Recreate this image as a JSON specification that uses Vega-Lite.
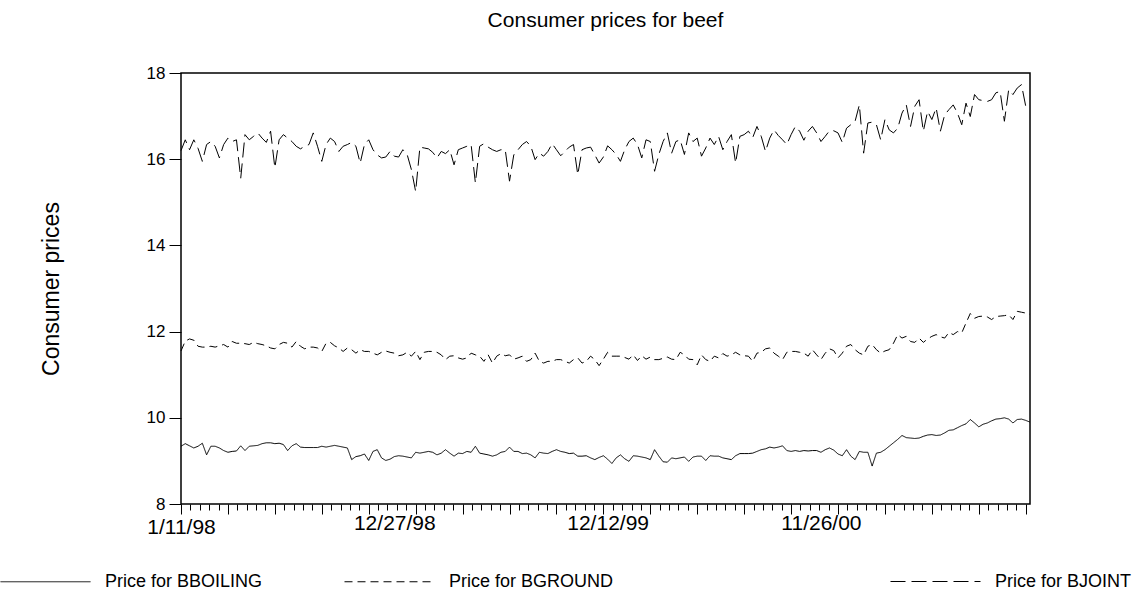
{
  "$schema": "https://vega.github.io/schema/vega-lite/v6.json",
  "width": 849,
  "height": 431,
  "autosize": "none",
  "padding": {"left": 181, "top": 73, "right": 106, "bottom": 95},
  "background": "white",
  "title": {"text": "Consumer prices for beef", "fontSize": 21, "fontWeight": "normal", "font": "Liberation Sans", "color": "#000", "anchor": "middle", "offset": 33},
  "config": {
    "font": "Liberation Sans",
    "view": {"stroke": "#000", "strokeWidth": 1.5},
    "axis": {"labelFont": "Liberation Sans", "titleFont": "Liberation Sans", "labelColor": "#000", "titleColor": "#000", "tickColor": "#000", "domain": false, "grid": false},
    "legend": {"title": null, "orient": "none", "direction": "horizontal", "symbolType": "stroke", "symbolSize": 8100, "symbolStrokeColor": "#000", "symbolStrokeWidth": 1, "labelFontSize": 18, "labelLimit": 0, "labelColor": "#000", "labelFont": "Liberation Sans", "labelOffset": 14, "padding": 0}
  },
  "data": {"values": [
{"t":0,"BBOILING":9.34,"BGROUND":11.55,"BJOINT":16.20},
{"t":1,"BBOILING":9.40,"BGROUND":11.78,"BJOINT":16.45},
{"t":2,"BBOILING":9.35,"BGROUND":11.83,"BJOINT":16.22},
{"t":3,"BBOILING":9.30,"BGROUND":11.80,"BJOINT":16.45},
{"t":4,"BBOILING":9.34,"BGROUND":11.66,"BJOINT":16.25},
{"t":5,"BBOILING":9.41,"BGROUND":11.64,"BJOINT":15.95},
{"t":6,"BBOILING":9.14,"BGROUND":11.64,"BJOINT":16.34},
{"t":7,"BBOILING":9.34,"BGROUND":11.66,"BJOINT":16.41},
{"t":8,"BBOILING":9.34,"BGROUND":11.64,"BJOINT":16.30},
{"t":9,"BBOILING":9.30,"BGROUND":11.67,"BJOINT":16.03},
{"t":10,"BBOILING":9.24,"BGROUND":11.70,"BJOINT":16.34},
{"t":11,"BBOILING":9.20,"BGROUND":11.64,"BJOINT":16.49},
{"t":12,"BBOILING":9.22,"BGROUND":11.77,"BJOINT":16.41},
{"t":13,"BBOILING":9.23,"BGROUND":11.73,"BJOINT":16.45},
{"t":14,"BBOILING":9.35,"BGROUND":11.73,"BJOINT":15.56},
{"t":15,"BBOILING":9.24,"BGROUND":11.72,"BJOINT":16.57},
{"t":16,"BBOILING":9.34,"BGROUND":11.70,"BJOINT":16.45},
{"t":17,"BBOILING":9.35,"BGROUND":11.75,"BJOINT":16.53},
{"t":18,"BBOILING":9.36,"BGROUND":11.72,"BJOINT":16.61},
{"t":19,"BBOILING":9.40,"BGROUND":11.70,"BJOINT":16.49},
{"t":20,"BBOILING":9.42,"BGROUND":11.67,"BJOINT":16.39},
{"t":21,"BBOILING":9.42,"BGROUND":11.62,"BJOINT":16.65},
{"t":22,"BBOILING":9.40,"BGROUND":11.60,"BJOINT":15.80},
{"t":23,"BBOILING":9.41,"BGROUND":11.70,"BJOINT":16.45},
{"t":24,"BBOILING":9.38,"BGROUND":11.75,"BJOINT":16.57},
{"t":25,"BBOILING":9.24,"BGROUND":11.73,"BJOINT":16.49},
{"t":26,"BBOILING":9.35,"BGROUND":11.64,"BJOINT":16.41},
{"t":27,"BBOILING":9.40,"BGROUND":11.77,"BJOINT":16.30},
{"t":28,"BBOILING":9.32,"BGROUND":11.66,"BJOINT":16.24},
{"t":29,"BBOILING":9.31,"BGROUND":11.60,"BJOINT":16.30},
{"t":30,"BBOILING":9.31,"BGROUND":11.64,"BJOINT":16.34},
{"t":31,"BBOILING":9.31,"BGROUND":11.64,"BJOINT":16.61},
{"t":32,"BBOILING":9.31,"BGROUND":11.62,"BJOINT":16.30},
{"t":33,"BBOILING":9.34,"BGROUND":11.54,"BJOINT":15.95},
{"t":34,"BBOILING":9.32,"BGROUND":11.73,"BJOINT":16.34},
{"t":35,"BBOILING":9.34,"BGROUND":11.75,"BJOINT":16.49},
{"t":36,"BBOILING":9.36,"BGROUND":11.67,"BJOINT":16.41},
{"t":37,"BBOILING":9.34,"BGROUND":11.62,"BJOINT":16.18},
{"t":38,"BBOILING":9.32,"BGROUND":11.54,"BJOINT":16.30},
{"t":39,"BBOILING":9.30,"BGROUND":11.62,"BJOINT":16.34},
{"t":40,"BBOILING":9.03,"BGROUND":11.58,"BJOINT":16.39},
{"t":41,"BBOILING":9.10,"BGROUND":11.50,"BJOINT":16.30},
{"t":42,"BBOILING":9.12,"BGROUND":11.58,"BJOINT":15.91},
{"t":43,"BBOILING":9.16,"BGROUND":11.54,"BJOINT":16.34},
{"t":44,"BBOILING":9.01,"BGROUND":11.54,"BJOINT":16.45},
{"t":45,"BBOILING":9.22,"BGROUND":11.50,"BJOINT":16.22},
{"t":46,"BBOILING":9.26,"BGROUND":11.46,"BJOINT":16.10},
{"t":47,"BBOILING":9.07,"BGROUND":11.52,"BJOINT":16.03},
{"t":48,"BBOILING":9.01,"BGROUND":11.55,"BJOINT":16.05},
{"t":49,"BBOILING":9.04,"BGROUND":11.52,"BJOINT":16.18},
{"t":50,"BBOILING":9.10,"BGROUND":11.50,"BJOINT":16.07},
{"t":51,"BBOILING":9.12,"BGROUND":11.44,"BJOINT":16.05},
{"t":52,"BBOILING":9.11,"BGROUND":11.46,"BJOINT":16.22},
{"t":53,"BBOILING":9.09,"BGROUND":11.52,"BJOINT":16.11},
{"t":54,"BBOILING":9.07,"BGROUND":11.43,"BJOINT":15.76},
{"t":55,"BBOILING":9.20,"BGROUND":11.54,"BJOINT":15.25},
{"t":56,"BBOILING":9.18,"BGROUND":11.35,"BJOINT":16.28},
{"t":57,"BBOILING":9.20,"BGROUND":11.52,"BJOINT":16.26},
{"t":58,"BBOILING":9.22,"BGROUND":11.54,"BJOINT":16.24},
{"t":59,"BBOILING":9.20,"BGROUND":11.54,"BJOINT":16.16},
{"t":60,"BBOILING":9.14,"BGROUND":11.52,"BJOINT":16.03},
{"t":61,"BBOILING":9.18,"BGROUND":11.46,"BJOINT":16.18},
{"t":62,"BBOILING":9.26,"BGROUND":11.35,"BJOINT":16.13},
{"t":63,"BBOILING":9.18,"BGROUND":11.43,"BJOINT":16.22},
{"t":64,"BBOILING":9.11,"BGROUND":11.44,"BJOINT":15.87},
{"t":65,"BBOILING":9.18,"BGROUND":11.39,"BJOINT":16.22},
{"t":66,"BBOILING":9.17,"BGROUND":11.36,"BJOINT":16.26},
{"t":67,"BBOILING":9.22,"BGROUND":11.39,"BJOINT":16.30},
{"t":68,"BBOILING":9.20,"BGROUND":11.50,"BJOINT":16.34},
{"t":69,"BBOILING":9.34,"BGROUND":11.46,"BJOINT":15.45},
{"t":70,"BBOILING":9.18,"BGROUND":11.43,"BJOINT":16.30},
{"t":71,"BBOILING":9.16,"BGROUND":11.31,"BJOINT":16.36},
{"t":72,"BBOILING":9.14,"BGROUND":11.46,"BJOINT":16.28},
{"t":73,"BBOILING":9.11,"BGROUND":11.27,"BJOINT":16.22},
{"t":74,"BBOILING":9.14,"BGROUND":11.43,"BJOINT":16.18},
{"t":75,"BBOILING":9.20,"BGROUND":11.49,"BJOINT":16.22},
{"t":76,"BBOILING":9.22,"BGROUND":11.44,"BJOINT":16.22},
{"t":77,"BBOILING":9.32,"BGROUND":11.46,"BJOINT":15.49},
{"t":78,"BBOILING":9.22,"BGROUND":11.36,"BJOINT":16.10},
{"t":79,"BBOILING":9.22,"BGROUND":11.39,"BJOINT":16.22},
{"t":80,"BBOILING":9.17,"BGROUND":11.43,"BJOINT":16.34},
{"t":81,"BBOILING":9.18,"BGROUND":11.31,"BJOINT":16.41},
{"t":82,"BBOILING":9.14,"BGROUND":11.35,"BJOINT":16.30},
{"t":83,"BBOILING":9.07,"BGROUND":11.50,"BJOINT":15.99},
{"t":84,"BBOILING":9.20,"BGROUND":11.31,"BJOINT":16.14},
{"t":85,"BBOILING":9.18,"BGROUND":11.27,"BJOINT":16.07},
{"t":86,"BBOILING":9.17,"BGROUND":11.31,"BJOINT":16.18},
{"t":87,"BBOILING":9.22,"BGROUND":11.31,"BJOINT":16.36},
{"t":88,"BBOILING":9.26,"BGROUND":11.35,"BJOINT":16.22},
{"t":89,"BBOILING":9.22,"BGROUND":11.35,"BJOINT":16.08},
{"t":90,"BBOILING":9.20,"BGROUND":11.31,"BJOINT":16.18},
{"t":91,"BBOILING":9.17,"BGROUND":11.27,"BJOINT":16.28},
{"t":92,"BBOILING":9.18,"BGROUND":11.35,"BJOINT":16.34},
{"t":93,"BBOILING":9.11,"BGROUND":11.39,"BJOINT":15.64},
{"t":94,"BBOILING":9.11,"BGROUND":11.27,"BJOINT":16.22},
{"t":95,"BBOILING":9.12,"BGROUND":11.31,"BJOINT":16.26},
{"t":96,"BBOILING":9.07,"BGROUND":11.43,"BJOINT":16.28},
{"t":97,"BBOILING":9.03,"BGROUND":11.35,"BJOINT":16.10},
{"t":98,"BBOILING":9.08,"BGROUND":11.21,"BJOINT":15.91},
{"t":99,"BBOILING":9.12,"BGROUND":11.36,"BJOINT":16.05},
{"t":100,"BBOILING":9.04,"BGROUND":11.52,"BJOINT":16.31},
{"t":101,"BBOILING":8.94,"BGROUND":11.43,"BJOINT":16.22},
{"t":102,"BBOILING":9.07,"BGROUND":11.43,"BJOINT":16.11},
{"t":103,"BBOILING":9.14,"BGROUND":11.43,"BJOINT":15.95},
{"t":104,"BBOILING":9.05,"BGROUND":11.40,"BJOINT":16.22},
{"t":105,"BBOILING":8.99,"BGROUND":11.36,"BJOINT":16.41},
{"t":106,"BBOILING":9.12,"BGROUND":11.46,"BJOINT":16.49},
{"t":107,"BBOILING":9.11,"BGROUND":11.33,"BJOINT":16.34},
{"t":108,"BBOILING":9.09,"BGROUND":11.44,"BJOINT":16.03},
{"t":109,"BBOILING":9.07,"BGROUND":11.36,"BJOINT":16.45},
{"t":110,"BBOILING":9.03,"BGROUND":11.41,"BJOINT":16.41},
{"t":111,"BBOILING":9.26,"BGROUND":11.35,"BJOINT":15.72},
{"t":112,"BBOILING":9.11,"BGROUND":11.35,"BJOINT":16.11},
{"t":113,"BBOILING":8.98,"BGROUND":11.38,"BJOINT":16.41},
{"t":114,"BBOILING":8.97,"BGROUND":11.41,"BJOINT":16.61},
{"t":115,"BBOILING":9.07,"BGROUND":11.36,"BJOINT":16.14},
{"t":116,"BBOILING":9.05,"BGROUND":11.35,"BJOINT":16.41},
{"t":117,"BBOILING":9.07,"BGROUND":11.52,"BJOINT":16.45},
{"t":118,"BBOILING":9.09,"BGROUND":11.46,"BJOINT":16.11},
{"t":119,"BBOILING":8.99,"BGROUND":11.36,"BJOINT":16.61},
{"t":120,"BBOILING":9.09,"BGROUND":11.35,"BJOINT":16.41},
{"t":121,"BBOILING":9.11,"BGROUND":11.23,"BJOINT":16.49},
{"t":122,"BBOILING":9.11,"BGROUND":11.46,"BJOINT":16.07},
{"t":123,"BBOILING":9.01,"BGROUND":11.35,"BJOINT":16.26},
{"t":124,"BBOILING":9.12,"BGROUND":11.31,"BJOINT":16.49},
{"t":125,"BBOILING":9.11,"BGROUND":11.43,"BJOINT":16.34},
{"t":126,"BBOILING":9.11,"BGROUND":11.39,"BJOINT":16.53},
{"t":127,"BBOILING":9.07,"BGROUND":11.49,"BJOINT":16.22},
{"t":128,"BBOILING":9.05,"BGROUND":11.43,"BJOINT":16.41},
{"t":129,"BBOILING":9.03,"BGROUND":11.46,"BJOINT":16.57},
{"t":130,"BBOILING":9.12,"BGROUND":11.52,"BJOINT":15.91},
{"t":131,"BBOILING":9.17,"BGROUND":11.46,"BJOINT":16.53},
{"t":132,"BBOILING":9.17,"BGROUND":11.44,"BJOINT":16.57},
{"t":133,"BBOILING":9.17,"BGROUND":11.43,"BJOINT":16.65},
{"t":134,"BBOILING":9.18,"BGROUND":11.31,"BJOINT":16.50},
{"t":135,"BBOILING":9.22,"BGROUND":11.50,"BJOINT":16.76},
{"t":136,"BBOILING":9.26,"BGROUND":11.52,"BJOINT":16.53},
{"t":137,"BBOILING":9.28,"BGROUND":11.60,"BJOINT":16.18},
{"t":138,"BBOILING":9.32,"BGROUND":11.62,"BJOINT":16.49},
{"t":139,"BBOILING":9.30,"BGROUND":11.50,"BJOINT":16.68},
{"t":140,"BBOILING":9.32,"BGROUND":11.43,"BJOINT":16.55},
{"t":141,"BBOILING":9.35,"BGROUND":11.35,"BJOINT":16.45},
{"t":142,"BBOILING":9.24,"BGROUND":11.52,"BJOINT":16.34},
{"t":143,"BBOILING":9.22,"BGROUND":11.54,"BJOINT":16.57},
{"t":144,"BBOILING":9.24,"BGROUND":11.54,"BJOINT":16.76},
{"t":145,"BBOILING":9.22,"BGROUND":11.52,"BJOINT":16.65},
{"t":146,"BBOILING":9.24,"BGROUND":11.50,"BJOINT":16.44},
{"t":147,"BBOILING":9.23,"BGROUND":11.43,"BJOINT":16.65},
{"t":148,"BBOILING":9.24,"BGROUND":11.58,"BJOINT":16.76},
{"t":149,"BBOILING":9.24,"BGROUND":11.46,"BJOINT":16.61},
{"t":150,"BBOILING":9.20,"BGROUND":11.35,"BJOINT":16.41},
{"t":151,"BBOILING":9.26,"BGROUND":11.50,"BJOINT":16.53},
{"t":152,"BBOILING":9.30,"BGROUND":11.60,"BJOINT":16.66},
{"t":153,"BBOILING":9.25,"BGROUND":11.56,"BJOINT":16.66},
{"t":154,"BBOILING":9.16,"BGROUND":11.39,"BJOINT":16.61},
{"t":155,"BBOILING":9.12,"BGROUND":11.50,"BJOINT":16.39},
{"t":156,"BBOILING":9.26,"BGROUND":11.66,"BJOINT":16.72},
{"t":157,"BBOILING":9.11,"BGROUND":11.70,"BJOINT":16.80},
{"t":158,"BBOILING":9.03,"BGROUND":11.58,"BJOINT":16.88},
{"t":159,"BBOILING":9.22,"BGROUND":11.50,"BJOINT":17.26},
{"t":160,"BBOILING":9.20,"BGROUND":11.46,"BJOINT":16.14},
{"t":161,"BBOILING":9.20,"BGROUND":11.66,"BJOINT":16.84},
{"t":162,"BBOILING":8.88,"BGROUND":11.70,"BJOINT":16.86},
{"t":163,"BBOILING":9.18,"BGROUND":11.58,"BJOINT":16.80},
{"t":164,"BBOILING":9.20,"BGROUND":11.50,"BJOINT":16.45},
{"t":165,"BBOILING":9.26,"BGROUND":11.55,"BJOINT":16.92},
{"t":166,"BBOILING":9.34,"BGROUND":11.58,"BJOINT":16.68},
{"t":167,"BBOILING":9.42,"BGROUND":11.73,"BJOINT":16.61},
{"t":168,"BBOILING":9.50,"BGROUND":11.93,"BJOINT":16.72},
{"t":169,"BBOILING":9.59,"BGROUND":11.85,"BJOINT":17.07},
{"t":170,"BBOILING":9.54,"BGROUND":11.89,"BJOINT":17.26},
{"t":171,"BBOILING":9.53,"BGROUND":11.77,"BJOINT":16.76},
{"t":172,"BBOILING":9.52,"BGROUND":11.75,"BJOINT":17.23},
{"t":173,"BBOILING":9.53,"BGROUND":11.85,"BJOINT":17.38},
{"t":174,"BBOILING":9.57,"BGROUND":11.75,"BJOINT":16.65},
{"t":175,"BBOILING":9.60,"BGROUND":11.83,"BJOINT":17.11},
{"t":176,"BBOILING":9.61,"BGROUND":11.89,"BJOINT":16.92},
{"t":177,"BBOILING":9.59,"BGROUND":11.93,"BJOINT":17.19},
{"t":178,"BBOILING":9.60,"BGROUND":11.88,"BJOINT":16.65},
{"t":179,"BBOILING":9.65,"BGROUND":11.85,"BJOINT":17.03},
{"t":180,"BBOILING":9.71,"BGROUND":11.98,"BJOINT":17.15},
{"t":181,"BBOILING":9.72,"BGROUND":11.93,"BJOINT":17.26},
{"t":182,"BBOILING":9.77,"BGROUND":12.00,"BJOINT":17.07},
{"t":183,"BBOILING":9.82,"BGROUND":11.97,"BJOINT":16.80},
{"t":184,"BBOILING":9.86,"BGROUND":12.20,"BJOINT":17.30},
{"t":185,"BBOILING":9.96,"BGROUND":12.42,"BJOINT":16.99},
{"t":186,"BBOILING":9.88,"BGROUND":12.31,"BJOINT":17.50},
{"t":187,"BBOILING":9.79,"BGROUND":12.35,"BJOINT":17.38},
{"t":188,"BBOILING":9.85,"BGROUND":12.36,"BJOINT":17.36},
{"t":189,"BBOILING":9.88,"BGROUND":12.34,"BJOINT":17.34},
{"t":190,"BBOILING":9.93,"BGROUND":12.28,"BJOINT":17.38},
{"t":191,"BBOILING":9.97,"BGROUND":12.35,"BJOINT":17.54},
{"t":192,"BBOILING":9.98,"BGROUND":12.36,"BJOINT":17.57},
{"t":193,"BBOILING":10.00,"BGROUND":12.37,"BJOINT":16.88},
{"t":194,"BBOILING":9.97,"BGROUND":12.39,"BJOINT":17.61},
{"t":195,"BBOILING":9.88,"BGROUND":12.28,"BJOINT":17.50},
{"t":196,"BBOILING":9.96,"BGROUND":12.47,"BJOINT":17.65},
{"t":197,"BBOILING":9.97,"BGROUND":12.45,"BJOINT":17.73},
{"t":198,"BBOILING":9.94,"BGROUND":12.43,"BJOINT":17.23},
{"t":199,"BBOILING":9.90,"BGROUND":12.40,"BJOINT":17.15}
  ]},
  "transform": [{"fold": ["BBOILING", "BGROUND", "BJOINT"], "as": ["series", "price"]}],
  "encoding": {
    "x": {
      "field": "t", "type": "quantitative",
      "scale": {"domain": [0, 199], "nice": false, "zero": false},
      "axis": {
        "title": null,
        "values": [0,2.2,4.4,6.6,8.8,11,13.2,15.4,17.6,19.8,22,24.2,26.4,28.6,30.8,33,35.2,37.4,39.6,41.8,44,46.2,48.4,50,50.6,52.8,55,57.2,59.4,61.6,63.8,66,68.2,70.4,72.6,74.8,77,79.2,81.4,83.6,85.8,88,90.2,92.4,94.6,96.8,99,100,101.2,103.4,105.6,107.8,110,112.2,114.4,116.6,118.8,121,123.2,125.4,127.6,129.8,132,134.2,136.4,138.6,140.8,143,145.2,147.4,149.6,150,151.8,154,156.2,158.4,160.6,162.8,165,167.2,169.4,171.6,173.8,176,178.2,180.4,182.6,184.8,187,189.2,191.4,193.6,195.8,198],
        "labelExpr": "datum.value == 0 ? '1/11/98' : datum.value == 50 ? '12/27/98' : datum.value == 100 ? '12/12/99' : datum.value == 150 ? '11/26/00' : ''",
        "labelFontSize": 21,
        "labelOverlap": false,
        "labelBound": false,
        "labelFlush": false,
        "labelPadding": 2,
        "tickSize": {"condition": {"test": "datum.value % 11 == 0", "value": 10}, "value": 6},
        "tickOpacity": {"condition": {"test": "datum.value == 50 || datum.value == 100 || datum.value == 150", "value": 0}, "value": 1}
      }
    },
    "y": {
      "field": "price", "type": "quantitative",
      "scale": {"domain": [8, 18], "nice": false, "zero": false},
      "axis": {"title": "Consumer prices", "titleFontSize": 23, "titleFontWeight": "normal", "titlePadding": 83, "values": [8,10,12,14,16,18], "labelFontSize": 17, "tickSize": 12, "labelPadding": 4}
    }
  },
  "layer": [
    {
      "transform": [{"filter": "datum.series != 'BJOINT'"}],
      "mark": {"type": "line", "color": "#000", "strokeWidth": 1},
      "encoding": {
        "strokeDash": {
          "field": "series", "type": "nominal",
          "scale": {"domain": ["BBOILING", "BGROUND"], "range": [[1, 0], [8, 5]]},
          "legend": {"legendX": -181, "legendY": 463, "gridAlign": "each", "columnPadding": 79, "labelExpr": "'Price for ' + datum.label"}
        }
      }
    },
    {
      "transform": [{"filter": "datum.series == 'BJOINT'"}],
      "mark": {"type": "line", "color": "#000", "strokeWidth": 1},
      "encoding": {
        "strokeDash": {
          "field": "series", "type": "nominal",
          "scale": {"domain": ["BJOINT"], "range": [[15, 6]]},
          "legend": {"legendX": 709, "legendY": 463, "labelExpr": "'Price for ' + datum.label"}
        }
      }
    }
  ],
  "resolve": {"scale": {"strokeDash": "independent"}, "legend": {"strokeDash": "independent"}}
}
